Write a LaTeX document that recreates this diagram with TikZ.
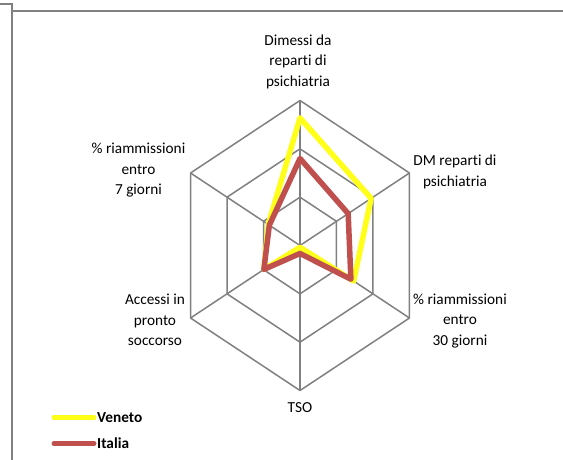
\documentclass[tikz,border=0pt]{standalone}
\usepackage{fontspec}
\setmainfont{Carlito}[Ligatures={NoCommon,NoRare,NoDiscretionary,NoContextual}]
\definecolor{gridgray}{HTML}{808080}
\definecolor{veneto}{HTML}{FFFF1A}
\definecolor{italia}{HTML}{C0504D}
\begin{document}
\begin{tikzpicture}[x=1pt,y=-1pt,
  gridline/.style={draw=gridgray,line width=1.5pt},
  frameline/.style={draw=gridgray,line width=1.7pt},
  serie/.style={line width=5.5pt,line join=round},
  axlabel/.style={font=\fontsize{15.3}{20.5}\selectfont,align=center,inner sep=0pt},
  leglabel/.style={font=\fontsize{15.3}{18}\selectfont\bfseries,anchor=west,inner sep=0pt}]
\useasboundingbox (0,0) rectangle (563,460);
% frame
\draw[frameline] (0,4) -- (12,4) -- (12,460);
\draw[frameline] (12,11) -- (563,11);
% radar chart
\begin{scope}[shift={(300pt,-245.5pt)},x=126.4pt,y=145pt]
  \coordinate (c) at (0,0);
  \foreach \a/\n in {90/t,30/ur,-30/lr,-90/b,210/ll,150/ul}{
    \coordinate (\n1) at (\a:0.3333);
    \coordinate (\n2) at (\a:0.6667);
    \coordinate (\n3) at (\a:1);
  }
  \foreach \k in {1,2,3}{
    \draw[gridline,line join=round] (t\k) -- (ur\k) -- (lr\k) -- (b\k) -- (ll\k) -- (ul\k) -- cycle;
  }
  \foreach \n in {t,ur,lr,b,ll,ul}{
    \draw[gridline] (c) -- (\n3);
  }
  % Veneto
  \coordinate (vt) at (90:0.88);
  \coordinate (vur) at (30:0.65);
  \coordinate (vlr) at (-30:0.49);
  \coordinate (vb) at (-90:0.012);
  \coordinate (vll) at (210:0.33);
  \coordinate (vul) at (150:0.29);
  \draw[serie,veneto] (vt) -- (vur) -- (vlr) -- (vb) -- (vll) -- (vul) -- cycle;
  % Italia
  \coordinate (it) at (90:0.60);
  \coordinate (iur) at (30:0.44);
  \coordinate (ilr) at (-30:0.465);
  \coordinate (ib) at (-90:0.055);
  \coordinate (ill) at (210:0.33);
  \coordinate (iul) at (150:0.28);
  \draw[serie,italia] (it) -- (iur) -- (ilr) -- (ib) -- (ill) -- (iul) -- cycle;
\end{scope}
% axis labels
\node[axlabel] (lt) at (298,61.5) {Dimessi da\\reparti di\\psichiatria};
\node[axlabel] (lur) at (455,172) {DM reparti di\\psichiatria};
\node[axlabel] (llr) at (460,321) {\% riammissioni\\entro\\30 giorni};
\node[axlabel] (lb) at (300,408) {TSO};
\node[axlabel] (lll) at (155,320) {Accessi in\\pronto\\soccorso};
\node[axlabel] (lul) at (138.5,170.5) {\% riammissioni\\entro\\7 giorni};
% legend
\coordinate (v1) at (54,417.5);
\coordinate (v2) at (94,417.5);
\coordinate (r1) at (54,443.5);
\coordinate (r2) at (94,443.5);
\draw[line width=5pt,veneto,line cap=round] (v1) -- (v2);
\draw[line width=5pt,italia,line cap=round] (r1) -- (r2);
\node[leglabel] (lv) at (97,417.5) {Veneto};
\node[leglabel] (li) at (97,443.5) {Italia};
\end{tikzpicture}
\end{document}
